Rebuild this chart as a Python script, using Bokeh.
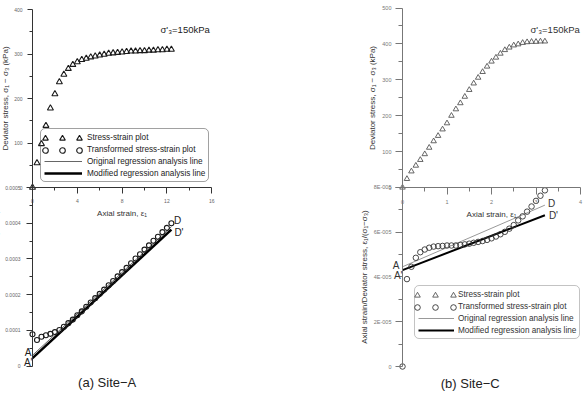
import math
from bokeh.plotting import figure
from bokeh.models import (Range1d, FixedTicker, Legend, LegendItem, Label, LinearAxis,
                          NumeralTickFormatter, CustomJSTickFormatter)
from bokeh.core.properties import value
from bokeh.embed import file_html
from bokeh.resources import INLINE

# ---------------- data ----------------
# Site-A: triaxial test, deviator stress (kPa) against axial strain (%)
site_a_strain = [0.0, 0.4, 0.8, 1.2, 1.6, 2.0, 2.4, 2.8, 3.2, 3.6, 4.0, 4.4, 4.8, 5.2,
                 5.6, 6.0, 6.4, 6.8, 7.2, 7.6, 8.0, 8.4, 8.8, 9.2, 9.6, 10.0, 10.4,
                 10.8, 11.2, 11.6, 12.0, 12.4]
site_a_stress = [0, 55, 98, 139, 178, 210, 237, 254, 267, 276, 282, 287, 290, 293,
                 295, 297, 299, 301, 302, 303, 304, 305, 306, 306, 307, 307, 308,
                 308, 309, 309, 310, 310]
# transformed plot: axial strain / deviator stress
site_a_ratio = [8.9e-5, 7.3e-5, 8.2e-5, 8.6e-5, 9.0e-5, 9.5e-5, 1.01e-4, 1.10e-4,
                1.20e-4, 1.30e-4, 1.42e-4, 1.53e-4, 1.66e-4, 1.78e-4, 1.90e-4, 2.02e-4,
                2.14e-4, 2.26e-4, 2.38e-4, 2.51e-4, 2.63e-4, 2.75e-4, 2.88e-4, 3.01e-4,
                3.13e-4, 3.26e-4, 3.38e-4, 3.51e-4, 3.62e-4, 3.75e-4, 3.87e-4, 4.0e-4]
site_a_line_strain = [0.0, 12.4]
site_a_original = [3.0e-5, 3.9e-4]
site_a_modified = [2.2e-5, 3.82e-4]

# Site-C
site_c_strain = [0.0, 0.1, 0.2, 0.3, 0.4, 0.5, 0.6, 0.7, 0.8, 0.9, 1.0, 1.1, 1.2, 1.3,
                 1.4, 1.5, 1.6, 1.7, 1.8, 1.9, 2.0, 2.1, 2.2, 2.3, 2.4, 2.5, 2.6, 2.7,
                 2.8, 2.9, 3.0, 3.1, 3.2]
site_c_stress = [0, 24, 45, 61, 77, 93, 111, 129, 144, 162, 179, 200, 218, 235, 253,
                 272, 290, 306, 322, 337, 351, 362, 373, 383, 390, 396, 399, 403, 405,
                 406, 406, 407, 407]
site_c_ratio = [0.0, 3.9e-5, 4.45e-5, 4.85e-5, 5.1e-5, 5.22e-5, 5.3e-5, 5.35e-5, 5.37e-5,
                5.38e-5, 5.4e-5, 5.4e-5, 5.4e-5, 5.42e-5, 5.45e-5, 5.48e-5, 5.52e-5,
                5.56e-5, 5.6e-5, 5.65e-5, 5.72e-5, 5.8e-5, 5.9e-5, 6.01e-5, 6.15e-5,
                6.31e-5, 6.52e-5, 6.7e-5, 6.91e-5, 7.14e-5, 7.39e-5, 7.62e-5, 7.86e-5]
site_c_line_strain = [0.0, 3.2]
site_c_original = [4.45e-5, 7.2e-5]
site_c_modified = [4.3e-5, 6.75e-5]

# axis ticks
strain_ticks_a = [0, 4, 8, 12, 16]
stress_ticks_a = [0, 100, 200, 300, 400]
ratio_ticks_a = [0, 0.0001, 0.0002, 0.0003, 0.0004, 0.0005]
strain_ticks_c = [0, 1, 2, 3, 4]
stress_ticks_c = [0, 100, 200, 300, 400, 500]
ratio_ticks_c = [0, 2e-5, 4e-5, 6e-5, 8e-5]

legend_labels = ["Stress-strain plot", "Transformed stress-strain plot",
                 "Original regression analysis line", "Modified regression analysis line"]
confining = "σ'₃=150kPa"
strain_title = "Axial strain, ε₁"
stress_title = "Deviator stress, σ₁ − σ₃ (kPa)"
ratio_title = "Axial strain/Deviator stress, ε₁/(σ₁−σ₃)"
captions = ["(a)  Site−A", "(b)  Site−C"]

# ---------------- page geometry ----------------
# one frame covers the whole page; every axis system is a pair of ranges
# given by (pixel of value 0, pixels per unit)
W, H = 584, 394
FONT = "Liberation Sans"
XA = (32, 11.2)        # Site-A strain
XC = (402, 44.5)       # Site-C strain
SA = (187, 0.445)      # Site-A stress
RA = (365.5, 357000)   # Site-A strain/stress
SC = (187, 0.359)      # Site-C stress
RC = (366, 2.241e6)    # Site-C strain/stress


def x_range(g):
    return Range1d(-g[0] / g[1], (W - g[0]) / g[1])


def y_range(g):
    return Range1d((g[0] - H) / g[1], g[0] / g[1])


def dx(g, px):
    return (px - g[0]) / g[1]


def dy(g, py):
    return (g[0] - py) / g[1]


def mids(t):
    return [(a + b) / 2 for a, b in zip(t[:-1], t[1:])]


p = figure(width=W, height=H, x_range=x_range(XA), y_range=y_range(RA),
           min_border=0, x_axis_location=None, y_axis_location=None,
           output_backend="svg", toolbar_location=None, outline_line_color=None,
           background_fill_color="white", border_fill_color="white")
p.extra_x_ranges = {"xc": x_range(XC)}
p.extra_y_ranges = {"sa": y_range(SA), "sc": y_range(SC), "rc": y_range(RC)}
p.grid.visible = False


def add_axis(side, xname, yname, ticks, color, label_color, font_size, tick_out,
             minor_out, standoff, title=None, title_standoff=2, formatter=None):
    ax = LinearAxis(x_range_name=xname, y_range_name=yname, fixed_location=0,
                    bounds=(ticks[0], ticks[-1]),
                    ticker=FixedTicker(ticks=ticks, minor_ticks=mids(ticks)))
    if formatter is not None:
        ax.formatter = formatter
    ax.axis_line_color = color
    ax.major_tick_line_color = color
    ax.minor_tick_line_color = color
    ax.major_tick_in = 0
    ax.minor_tick_in = 0
    ax.major_tick_out = tick_out
    ax.minor_tick_out = minor_out
    ax.major_label_text_font = FONT
    ax.major_label_text_font_size = font_size
    ax.major_label_text_color = label_color
    ax.major_label_standoff = standoff
    if title:
        ax.axis_label = title
        ax.axis_label_text_font = FONT
        ax.axis_label_text_font_style = "normal"
        ax.axis_label_text_font_size = "8px"
        ax.axis_label_text_color = "#333333"
        ax.axis_label_standoff = title_standoff
    p.add_layout(ax, side)
    return ax


def note(xname, yname, g_x, g_y, px, py, text, size, align="left", color="#222222"):
    p.add_layout(Label(x=dx(g_x, px), y=dy(g_y, py), x_range_name=xname,
                       y_range_name=yname, text=text, text_font=FONT,
                       text_font_size=size, text_align=align, text_baseline="middle",
                       text_color=color))


def tag(xname, yname, x, y, text, ox, oy, align, color):
    p.add_layout(Label(x=x, y=y, x_range_name=xname, y_range_name=yname, text=text,
                       x_offset=ox, y_offset=oy, text_font=FONT, text_font_size="10px",
                       text_align=align, text_baseline="middle", text_color=color))


def legend_box(left, top, glyph_w, standoff, line_rs, border, text_color):
    items = [LegendItem(label=value(legend_labels[0]), renderers=[]),
             LegendItem(label=value(legend_labels[1]), renderers=[]),
             LegendItem(label=value(legend_labels[2]), renderers=[line_rs[0]]),
             LegendItem(label=value(legend_labels[3]), renderers=[line_rs[1]])]
    leg = Legend(items=items, location=(left, H - (top + 52)),
                 glyph_width=glyph_w, glyph_height=10, label_height=10, label_width=0,
                 label_standoff=standoff, spacing=2, padding=3, margin=0,
                 border_line_color=border, border_line_width=1,
                 background_fill_alpha=0,
                 label_text_font=FONT, label_text_font_size="8.2px",
                 label_text_color=text_color)
    if "border_radius" in leg.properties():
        leg.border_radius = 5
    p.add_layout(leg)


def marker_row(renderer, first_center, cy, pitch):
    items = [LegendItem(label=value(""), renderers=[renderer]) for _ in range(3)]
    leg = Legend(items=items, orientation="horizontal",
                 location=(first_center - 7, H - (cy + 7)),
                 glyph_width=14, glyph_height=14, label_width=0, label_height=0,
                 label_standoff=0, spacing=pitch - 14, padding=0, margin=0,
                 border_line_color=None, background_fill_alpha=0)
    p.add_layout(leg)


# ---------------- (a) Site-A ----------------
A_AX, A_LBL = "#333333", "#666666"
add_axis("below", "default", "sa", strain_ticks_a, A_AX, A_LBL, "5px", 6, 3, 5,
         title=strain_title, title_standoff=3)
add_axis("left", "default", "sa", stress_ticks_a, A_AX, A_LBL, "5px", 5, 3, 5,
         title=stress_title, title_standoff=1)
add_axis("left", "default", "default", ratio_ticks_a, A_AX, A_LBL, "5px", 6, 3, 6,
         title=ratio_title, title_standoff=2,
         formatter=NumeralTickFormatter(format="0.[0000]"))

tri_a = p.scatter(site_a_strain, site_a_stress, y_range_name="sa", marker="triangle",
                  size=6, fill_color=None, line_color="#1a1a1a", line_width=1.1)
orig_a = p.line(site_a_line_strain, site_a_original, line_color="#666666", line_width=1)
mod_a = p.line(site_a_line_strain, site_a_modified, line_color="black", line_width=2.5)
circ_a = p.scatter(site_a_strain, site_a_ratio, marker="circle", size=5,
                   fill_color=None, line_color="#1a1a1a", line_width=1.1)

tag("default", "default", 0, site_a_original[0], "A", -1, 3, "right", "#222222")
tag("default", "default", 0, site_a_modified[0], "A'", 0, -4.5, "right", "#222222")
tag("default", "default", site_a_line_strain[1], site_a_original[1], "D", 2.5, 6.3,
    "left", "#222222")
tag("default", "default", site_a_line_strain[1], site_a_modified[1], "D'", 3, -3,
    "left", "#222222")
note("default", "sa", XA, SA, 160, 29, confining, "9.5px")
note("default", "default", XA, RA, 108.5, 382, captions[0], "13px", align="center")
legend_box(40, 130, 38, 5, [orig_a, mod_a], "#444444", "#222222")
marker_row(tri_a, 45, 138, 17)
marker_row(circ_a, 45, 150, 17)

# ---------------- (b) Site-C ----------------
C_AX, C_LBL = "#777777", "#777777"
add_axis("below", "xc", "sc", strain_ticks_c, C_AX, C_LBL, "5.5px", 7, 4, 5,
         title=strain_title, title_standoff=3)
add_axis("left", "xc", "sc", stress_ticks_c, C_AX, C_LBL, "5.5px", 7, 4, 4,
         title=stress_title, title_standoff=2)
add_axis("left", "xc", "rc", ratio_ticks_c, C_AX, C_LBL, "5.5px", 7, 4, 4,
         title=ratio_title, title_standoff=2,
         formatter=CustomJSTickFormatter(code="""
    if (tick == 0) { return "0"; }
    const parts = tick.toExponential(0).split("e");
    const n = parseInt(parts[1]);
    return parts[0] + "E" + (n < 0 ? "-" : "+") + String(Math.abs(n)).padStart(3, "0");
"""))

tri_c = p.scatter(site_c_strain, site_c_stress, x_range_name="xc", y_range_name="sc",
                  marker="triangle", size=5.5, fill_color=None, line_color="#555555",
                  line_width=0.9)
orig_c = p.line(site_c_line_strain, site_c_original, x_range_name="xc",
                y_range_name="rc", line_color="#999999", line_width=1)
mod_c = p.line(site_c_line_strain, site_c_modified, x_range_name="xc",
               y_range_name="rc", line_color="black", line_width=2)
circ_c = p.scatter(site_c_strain, site_c_ratio, x_range_name="xc", y_range_name="rc",
                   marker="circle", size=5.5, fill_color=None, line_color="#333333",
                   line_width=0.9)

tag("xc", "rc", 0, site_c_original[0], "A", -3, 1, "right", "#333333")
tag("xc", "rc", 0, site_c_modified[0], "A'", 0, -5.4, "right", "#333333")
tag("xc", "rc", site_c_line_strain[1], site_c_original[1], "D", 3, 1.3, "left", "#333333")
tag("xc", "rc", site_c_line_strain[1], site_c_modified[1], "D'", 4, 0, "left", "#333333")
note("xc", "sc", XC, SC, 530, 29, confining, "9.5px", color="#333333")
note("xc", "rc", XC, RC, 471.5, 383, captions[1], "13px", align="center")
legend_box(414, 287, 36, 4, [orig_c, mod_c], "#888888", "#333333")
marker_row(tri_c, 417, 295, 18)
marker_row(circ_c, 417, 307, 18)

open("out.html", "w").write(file_html(p, INLINE))
